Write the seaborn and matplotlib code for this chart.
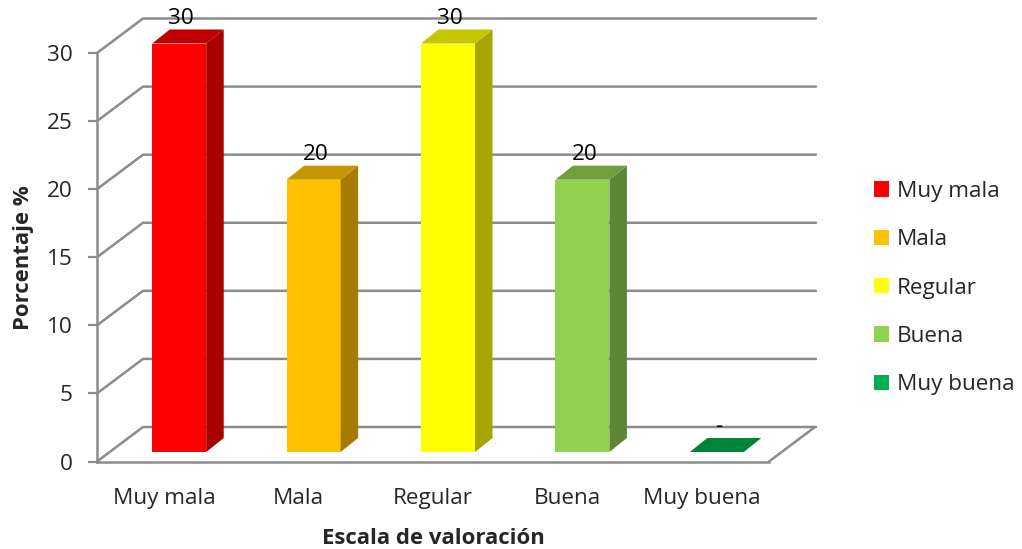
import matplotlib
matplotlib.use("Agg")
import matplotlib.pyplot as plt
import seaborn as sns
from matplotlib.lines import Line2D
from matplotlib.patches import Patch, Polygon
from matplotlib.transforms import IdentityTransform, offset_copy

categories = ["Muy mala", "Mala", "Regular", "Buena", "Muy buena"]
values = [30, 20, 30, 20, 0]
y_ticks = [0, 5, 10, 15, 20, 25, 30]
front_colors = ["#FF0000", "#FFC000", "#FFFF00", "#92D050", "#00B050"]
top_colors = ["#C00000", "#C69500", "#C6C600", "#719F3E", "#00843C"]
side_colors = ["#A60000", "#A67C00", "#A6A600", "#5F8636", "#006F35"]

GRID = "#8C8C8C"
W, H = 1022, 549
FS = 16.2

sns.set_theme(style="white")
plt.rcParams["font.family"] = ["Open Sans", "DejaVu Sans"]

fig = plt.figure(figsize=(W / 100, H / 100), dpi=100)
ax = fig.add_axes([97 / W, (H - 461.5) / H, 672 / W, 408.5 / H])

sns.barplot(x=categories, y=values, hue=categories, palette=front_colors,
            width=0.402, dodge=False, legend=False, saturation=1, ax=ax)
ax.set_xlim(-0.5, 4.5)
ax.set_ylim(0, 30)
ax.set_yticks(y_ticks)
ax.tick_params(axis="y", length=6.5, width=1.6, color=GRID, labelsize=FS, pad=11, left=True)
ax.tick_params(axis="x", length=0, labelsize=FS, pad=19)
ax.set_xlabel("Escala de valoración", fontsize=15.9, fontweight="bold", labelpad=14)
ax.set_ylabel("Porcentaje %", fontsize=15.9, fontweight="bold", labelpad=9)
sns.despine(ax=ax)
for s in ["left", "bottom"]:
    ax.spines[s].set_color(GRID)
    ax.spines[s].set_linewidth(1.8)

# back wall and floor, offset from the front plane
depth_x, depth_y = 46, 34.5
for v in y_ticks:
    x0, y0 = ax.transData.transform((-0.5, v))
    fig.add_artist(Line2D([x0, x0 + depth_x, 816], [y0, y0 + depth_y, y0 + depth_y],
                          transform=IdentityTransform(), color=GRID, lw=1.8, zorder=0.5))
x1, y1 = ax.transData.transform((4.5, 0))
fig.add_artist(Line2D([x1, x1 + depth_x], [y1, y1 + depth_y],
                      transform=IdentityTransform(), color=GRID, lw=1.8, zorder=0.5))
ax.set_zorder(1)
ax.patch.set_alpha(0)

# the 3d look of each bar
bar_dx, bar_dy = 15, 9.5
side_dx, side_dy = 17.5, 14
bars = sorted(ax.patches, key=lambda p: p.get_x())
for bar, top_c, side_c in zip(bars, top_colors, side_colors):
    bar.set_transform(offset_copy(ax.transData, fig=fig, x=bar_dx, y=bar_dy, units="dots"))
    bar.set_clip_on(False)
    bar.set_linewidth(0)
    bx = bar.get_x()
    (xa, ya) = ax.transData.transform((bx, 0))
    (xb, yb) = ax.transData.transform((bx + bar.get_width(), bar.get_height()))
    xa, xb, ya, yb = xa + bar_dx, xb + bar_dx, ya + bar_dy, yb + bar_dy
    ax.add_patch(Polygon([(xb, ya), (xb + side_dx, ya + side_dy), (xb + side_dx, yb + side_dy), (xb, yb)],
                         closed=True, transform=IdentityTransform(), fc=side_c, ec="none", clip_on=False, zorder=3))
    ax.add_patch(Polygon([(xa, yb), (xb, yb), (xb + side_dx, yb + side_dy), (xa + side_dx, yb + side_dy)],
                         closed=True, transform=IdentityTransform(), fc=top_c, ec="none", clip_on=False, zorder=3))

for i, v in enumerate(values):
    ax.annotate(f"{v}" if v else "-", xy=(i, v), xytext=(17, 35), textcoords="offset pixels",
                ha="center", va="center", fontsize=FS, color="black", annotation_clip=False, zorder=4)

handles = [Patch(facecolor=c, edgecolor="none", label=l) for c, l in zip(front_colors, categories)]
ax.legend(handles=handles, loc="center left", bbox_to_anchor=(874 / W, (H - 288) / H),
          bbox_transform=fig.transFigure, frameon=False, fontsize=FS, handlelength=0.68, handleheight=0.68,
          handletextpad=0.33, labelspacing=1.215, borderpad=0, borderaxespad=0)

fig.savefig("out.png", dpi=100, facecolor="white")
